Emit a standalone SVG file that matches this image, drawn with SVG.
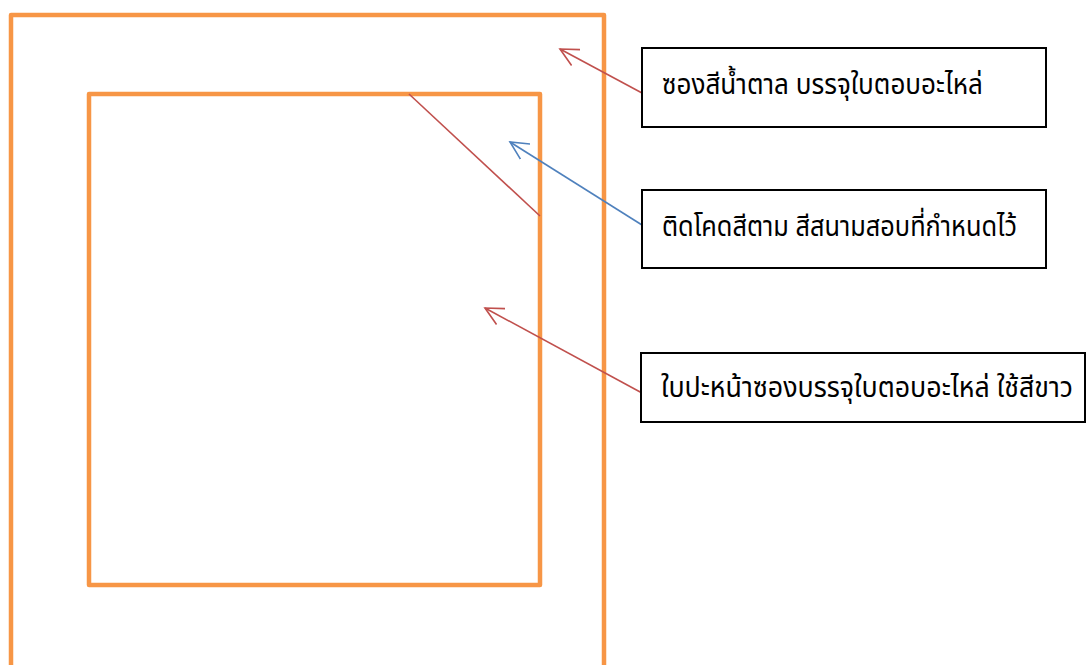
<svg xmlns="http://www.w3.org/2000/svg" width="1086" height="665" viewBox="0 0 1086 665">
  <defs>
    <style>
      .frame { fill: none; stroke: #F79646; stroke-width: 4.5; stroke-linejoin: round; }
      .box rect { fill: #ffffff; stroke: #000000; stroke-width: 2; }
      .box text { font-family: "Noto Sans Thai", "Leelawadee UI", Tahoma, "Noto Sans", "DejaVu Sans", sans-serif; font-size: 28px; fill: #000000; }
      .red { stroke: #C0504D; stroke-width: 1.6; fill: none; }
      .blue { stroke: #4F81BD; stroke-width: 1.6; fill: none; }
    </style>
    <marker id="arrRed" viewBox="0 0 20 20" refX="18" refY="10" markerWidth="20" markerHeight="20" markerUnits="userSpaceOnUse" orient="auto">
      <path d="M0,1 L18,10 L0,19" fill="none" stroke="#C0504D" stroke-width="1.6"/>
    </marker>
    <marker id="arrBlue" viewBox="0 0 20 20" refX="18" refY="10" markerWidth="20" markerHeight="20" markerUnits="userSpaceOnUse" orient="auto">
      <path d="M0,1 L18,10 L0,19" fill="none" stroke="#4F81BD" stroke-width="1.6"/>
    </marker>
  </defs>
  <rect width="1086" height="665" fill="#ffffff"/>

  <!-- envelope outline and front sheet -->
  <g id="envelope">
    <path class="frame" d="M11,680 L11,15 L604,15 L604,680"/>
  </g>
  <g id="front-sheet">
    <rect class="frame" x="89" y="94" width="451" height="491"/>
  </g>

  <!-- connectors -->
  <g id="connectors">
    <line class="red" x1="409" y1="94" x2="540" y2="216"/>
    <line class="red" x1="642" y1="93" x2="560" y2="49" marker-end="url(#arrRed)"/>
    <line class="blue" x1="642" y1="225" x2="510" y2="142" marker-end="url(#arrBlue)"/>
    <line class="red" x1="642" y1="393" x2="485" y2="308" marker-end="url(#arrRed)"/>
  </g>

  <g id="label-envelope" class="box">
    <rect x="642" y="48" width="404" height="79"/>
    <text x="662" y="94" textLength="321" lengthAdjust="spacingAndGlyphs">ซองสีน้ำตาล บรรจุใบตอบอะไหล่</text>
  </g>
  <g id="label-code" class="box">
    <rect x="642" y="190" width="404" height="78"/>
    <text x="662" y="236" textLength="355" lengthAdjust="spacingAndGlyphs">ติดโคดสีตาม สีสนามสอบที่กำหนดไว้</text>
  </g>
  <g id="label-sheet" class="box">
    <rect x="641" y="353" width="444" height="69"/>
    <text x="661" y="397" textLength="412" lengthAdjust="spacingAndGlyphs">ใบปะหน้าซองบรรจุใบตอบอะไหล่ ใช้สีขาว</text>
  </g>
</svg>
